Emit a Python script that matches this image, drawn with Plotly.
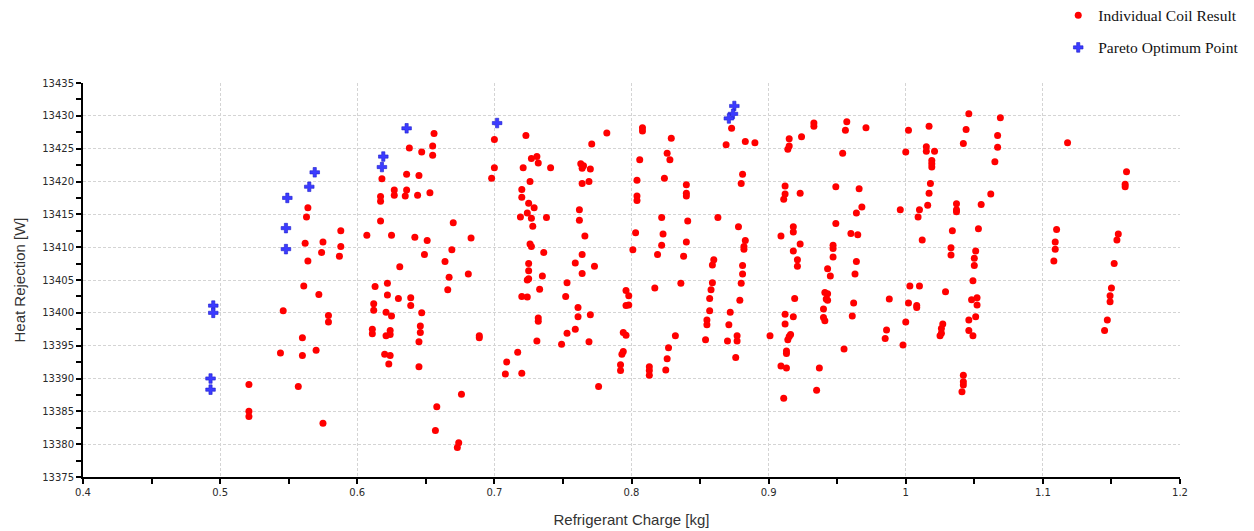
import plotly.graph_objects as go

# ---- Data ----
coil_charge = [
    0.564, 0.563, 0.562, 0.575, 0.574, 0.564, 0.561, 0.572, 0.546, 0.579,
    0.579, 0.560, 0.544, 0.560, 0.570, 0.521, 0.557, 0.521, 0.521, 0.575,
    0.656, 0.638, 0.647, 0.655, 0.655, 0.636, 0.645, 0.618, 0.627, 0.627,
    0.636, 0.635, 0.644, 0.653, 0.617, 0.617, 0.617, 0.670, 0.588, 0.607,
    0.625, 0.642, 0.651, 0.683, 0.588, 0.587, 0.649, 0.669, 0.664, 0.631,
    0.681, 0.667, 0.666, 0.613, 0.622, 0.622, 0.630, 0.639, 0.639, 0.612,
    0.612, 0.621, 0.625, 0.647, 0.646, 0.646, 0.645, 0.611, 0.611, 0.624,
    0.624, 0.621, 0.689, 0.689, 0.620, 0.624, 0.623, 0.645, 0.676, 0.658,
    0.657, 0.674, 0.673,
    0.700, 0.700, 0.698, 0.723, 0.782, 0.771, 0.727, 0.731, 0.732, 0.721,
    0.741, 0.726, 0.720, 0.720, 0.725, 0.729, 0.724, 0.719, 0.727, 0.738,
    0.728, 0.726, 0.727, 0.736, 0.725, 0.725, 0.725, 0.724, 0.735, 0.733,
    0.720, 0.724, 0.732, 0.732, 0.731, 0.717, 0.709, 0.708, 0.720, 0.763,
    0.765, 0.764, 0.770, 0.764, 0.769, 0.762, 0.762, 0.766, 0.764, 0.759,
    0.773, 0.764, 0.753, 0.752, 0.761, 0.761, 0.770, 0.759, 0.753, 0.749,
    0.769, 0.776, 0.796, 0.798, 0.796, 0.798, 0.794, 0.796, 0.794, 0.793,
    0.792, 0.792,
    0.808, 0.808, 0.829, 0.873, 0.869, 0.883, 0.890, 0.826, 0.828, 0.806,
    0.804, 0.824, 0.881, 0.880, 0.840, 0.840, 0.840, 0.804, 0.804, 0.822,
    0.863, 0.841, 0.878, 0.803, 0.823, 0.840, 0.883, 0.801, 0.822, 0.882,
    0.882, 0.819, 0.838, 0.860, 0.859, 0.881, 0.881, 0.817, 0.836, 0.859,
    0.880, 0.858, 0.857, 0.879, 0.857, 0.872, 0.855, 0.855, 0.871, 0.832,
    0.854, 0.870, 0.877, 0.877, 0.901, 0.827, 0.826, 0.876, 0.825, 0.813,
    0.813, 0.813,
    0.933, 0.933, 0.957, 0.956, 0.971, 1.002, 1.017, 0.924, 0.915, 0.915,
    0.914, 0.954, 1.000, 1.015, 1.015, 1.021, 1.019, 1.019, 1.019, 1.018,
    1.017, 1.016, 0.912, 0.912, 0.911, 0.923, 0.949, 0.966, 0.968, 0.964,
    0.996, 1.010, 1.009, 0.949, 0.909, 0.918, 0.918, 0.960, 0.965, 1.012,
    0.923, 0.947, 0.947, 0.918, 0.947, 0.921, 0.921, 0.964, 0.963, 0.943,
    0.945, 1.003, 1.010, 0.941, 0.943, 0.942, 0.943, 0.919, 0.962, 0.988,
    1.002, 1.008, 1.008, 0.940, 0.912, 0.918, 0.940, 0.941, 0.961, 1.000,
    0.912, 0.916, 0.915, 0.914, 0.986, 0.985, 0.998, 0.913, 0.913, 0.955,
    0.909, 0.913, 0.937, 0.935, 0.911,
    1.046, 1.069, 1.044, 1.067, 1.042, 1.067, 1.065, 1.118, 1.062, 1.037,
    1.037, 1.037, 1.055, 1.034, 1.053, 1.033, 1.033, 1.051, 1.050, 1.050,
    1.049, 1.029, 1.048, 1.052, 1.052, 1.051, 1.046, 1.027, 1.026, 1.026,
    1.025, 1.046, 1.049, 1.042, 1.042, 1.042, 1.041, 1.110, 1.109, 1.109,
    1.108,
    1.161, 1.160, 1.160, 1.155, 1.154, 1.152, 1.150, 1.149, 1.149, 1.147,
    1.145,
]

coil_heat = [
    13416.0, 13414.6, 13410.6, 13410.8, 13409.2, 13407.9, 13404.1, 13402.8, 13400.3, 13399.6,
    13398.6, 13396.2, 13393.9, 13393.5, 13394.3, 13389.1, 13388.8, 13385.0, 13384.2, 13383.2,
    13427.3, 13425.1, 13424.5, 13425.4, 13424.0, 13421.1, 13420.9, 13420.4, 13418.7, 13417.9,
    13418.7, 13417.8, 13417.9, 13418.3, 13417.7, 13417.0, 13414.0, 13413.7, 13412.5, 13411.8,
    13411.8, 13411.5, 13411.0, 13411.4, 13410.1, 13408.6, 13408.9, 13409.6, 13407.8, 13407.0,
    13405.9, 13405.4, 13403.5, 13404.0, 13404.5, 13402.7, 13402.2, 13402.3, 13401.1, 13401.4,
    13400.4, 13400.1, 13399.5, 13400.0, 13398.0, 13397.0, 13395.6, 13397.5, 13396.8, 13397.3,
    13396.7, 13396.5, 13396.5, 13396.2, 13393.7, 13393.5, 13392.2, 13391.8, 13387.6, 13385.7,
    13382.1, 13380.2, 13379.5,
    13426.4, 13422.1, 13420.5, 13427.0, 13427.4, 13425.7, 13423.5, 13423.8, 13422.8, 13422.1,
    13422.1, 13420.0, 13418.8, 13417.6, 13416.7, 13416.0, 13415.2, 13414.6, 13414.4, 13414.5,
    13413.2, 13410.5, 13410.1, 13409.2, 13407.5, 13406.4, 13405.2, 13405.0, 13405.6, 13403.6,
    13402.5, 13402.4, 13399.2, 13398.7, 13395.7, 13394.0, 13392.5, 13390.7, 13390.8, 13422.7,
    13422.4, 13422.0, 13421.9, 13419.7, 13420.0, 13415.7, 13414.1, 13411.7, 13408.9, 13407.6,
    13407.1, 13406.0, 13404.6, 13402.5, 13400.8, 13399.4, 13399.7, 13397.5, 13396.9, 13395.2,
    13395.6, 13388.8, 13403.4, 13402.6, 13401.1, 13401.2, 13397.0, 13396.6, 13394.1, 13393.7,
    13392.1, 13391.2,
    13428.2, 13427.7, 13426.6, 13428.1, 13425.6, 13426.1, 13425.9, 13424.3, 13423.3, 13423.3,
    13420.2, 13420.5, 13421.1, 13419.7, 13419.5, 13418.2, 13417.8, 13417.8, 13417.1, 13414.5,
    13414.5, 13414.0, 13413.1, 13412.2, 13412.0, 13410.8, 13411.0, 13409.6, 13410.3, 13410.1,
    13409.7, 13408.9, 13408.6, 13408.1, 13407.3, 13407.2, 13405.9, 13403.8, 13404.5, 13404.6,
    13404.5, 13403.5, 13402.2, 13401.9, 13400.3, 13400.1, 13398.9, 13398.2, 13398.2, 13396.5,
    13395.9, 13395.7, 13395.7, 13396.5, 13396.5, 13394.7, 13393.0, 13393.2, 13391.3, 13391.8,
    13391.2, 13390.5,
    13428.9, 13428.4, 13429.1, 13427.8, 13428.2, 13427.8, 13428.4, 13426.8, 13426.5, 13425.4,
    13424.9, 13424.3, 13424.5, 13425.3, 13424.6, 13424.6, 13423.2, 13422.7, 13422.2, 13419.7,
    13418.2, 13416.4, 13419.3, 13418.1, 13417.3, 13418.2, 13419.2, 13418.9, 13416.1, 13415.2,
    13415.7, 13415.7, 13414.6, 13413.6, 13411.7, 13413.1, 13412.3, 13412.1, 13411.9, 13411.1,
    13410.5, 13410.3, 13409.8, 13409.4, 13408.5, 13408.1, 13407.1, 13407.8, 13405.9, 13406.7,
    13405.6, 13404.1, 13404.1, 13403.1, 13402.9, 13402.1, 13401.9, 13402.2, 13401.5, 13402.1,
    13401.5, 13401.1, 13400.8, 13400.6, 13399.8, 13399.4, 13399.3, 13398.8, 13399.5, 13398.6,
    13398.3, 13396.7, 13396.4, 13395.9, 13397.4, 13396.1, 13395.1, 13394.2, 13393.8, 13394.5,
    13391.9, 13391.6, 13391.6, 13388.2, 13387.0,
    13430.3, 13429.7, 13427.9, 13427.0, 13425.8, 13425.2, 13423.0, 13425.9, 13418.1, 13416.6,
    13415.7, 13415.4, 13416.5, 13412.5, 13412.8, 13409.9, 13408.8, 13409.4, 13408.3, 13407.2,
    13404.9, 13403.2, 13402.0, 13402.3, 13401.2, 13399.4, 13398.9, 13398.3, 13397.6, 13396.9,
    13396.5, 13397.3, 13396.5, 13390.5, 13389.5, 13389.0, 13388.0, 13412.7, 13410.8, 13409.7,
    13407.9,
    13421.5, 13419.6, 13419.2, 13412.0, 13411.1, 13407.5, 13403.8, 13402.6, 13401.7, 13398.9,
    13397.3,
]

pareto_charge = [0.569, 0.565, 0.549, 0.548, 0.548, 0.495, 0.495, 0.493, 0.493,
                 0.636, 0.619, 0.618, 0.702, 0.875, 0.874, 0.871]
pareto_heat = [13421.4, 13419.2, 13417.5, 13412.9, 13409.7, 13401.1, 13400.0, 13390.0, 13388.3,
               13428.1, 13423.8, 13422.2, 13428.9, 13431.5, 13430.3, 13429.6]

series_names = ["Individual Coil Result", "Pareto Optimum Point"]
x_title = "Refrigerant Charge [kg]"
y_title = "Heat Rejection [W]"

fig = go.Figure()
fig.add_trace(go.Scatter(
    x=coil_charge, y=coil_heat, mode="markers", name=series_names[0],
    legendgroup="a",
    marker=dict(color="#ff0000", size=7, line=dict(width=0)),
))
fig.add_trace(go.Scatter(
    x=pareto_charge, y=pareto_heat, mode="markers", name=series_names[1],
    legendgroup="b",
    marker=dict(symbol="cross", size=8, color="#3b3bff",
                line=dict(width=0.6, color="#1e1ecc")),
))

axis_common = dict(
    showline=True, linecolor="#000000", linewidth=2,
    ticks="outside", ticklen=5, tickwidth=1.5, tickcolor="#000000",
    showgrid=True, gridcolor="#d4d4d4", gridwidth=1, griddash="3px,2px",
    zeroline=False,
    tickfont=dict(family="DejaVu Sans", size=10, color="#2a2a2a"),
    title_font=dict(family="Liberation Sans", size=15, color="#333333"),
)

fig.update_xaxes(
    range=[0.4, 1.2], dtick=0.1, tick0=0.4,
    minor=dict(dtick=0.05, ticks="outside", ticklen=5, tickwidth=1.5,
               tickcolor="#000000", showgrid=False),
    title_text=x_title, title_standoff=17,
    **axis_common,
)
fig.update_yaxes(
    range=[13375, 13435], dtick=5, tick0=13375, tickformat="d",
    minor=dict(dtick=2.5, ticks="outside", ticklen=5, tickwidth=1.5,
               tickcolor="#000000", showgrid=False),
    title_text=y_title, title_standoff=13,
    **axis_common,
)

fig.update_layout(
    width=1254, height=531,
    margin=dict(l=83, r=74, t=83, b=54, autoexpand=False),
    paper_bgcolor="#ffffff", plot_bgcolor="#ffffff",
    showlegend=True,
    legend=dict(
        x=0.889, y=1.214, xanchor="left", yanchor="top",
        font=dict(family="Liberation Serif", size=15.5, color="#111111"),
        tracegroupgap=9, traceorder="grouped",
        bgcolor="rgba(0,0,0,0)",
    ),
)

fig.write_html("out.html")
